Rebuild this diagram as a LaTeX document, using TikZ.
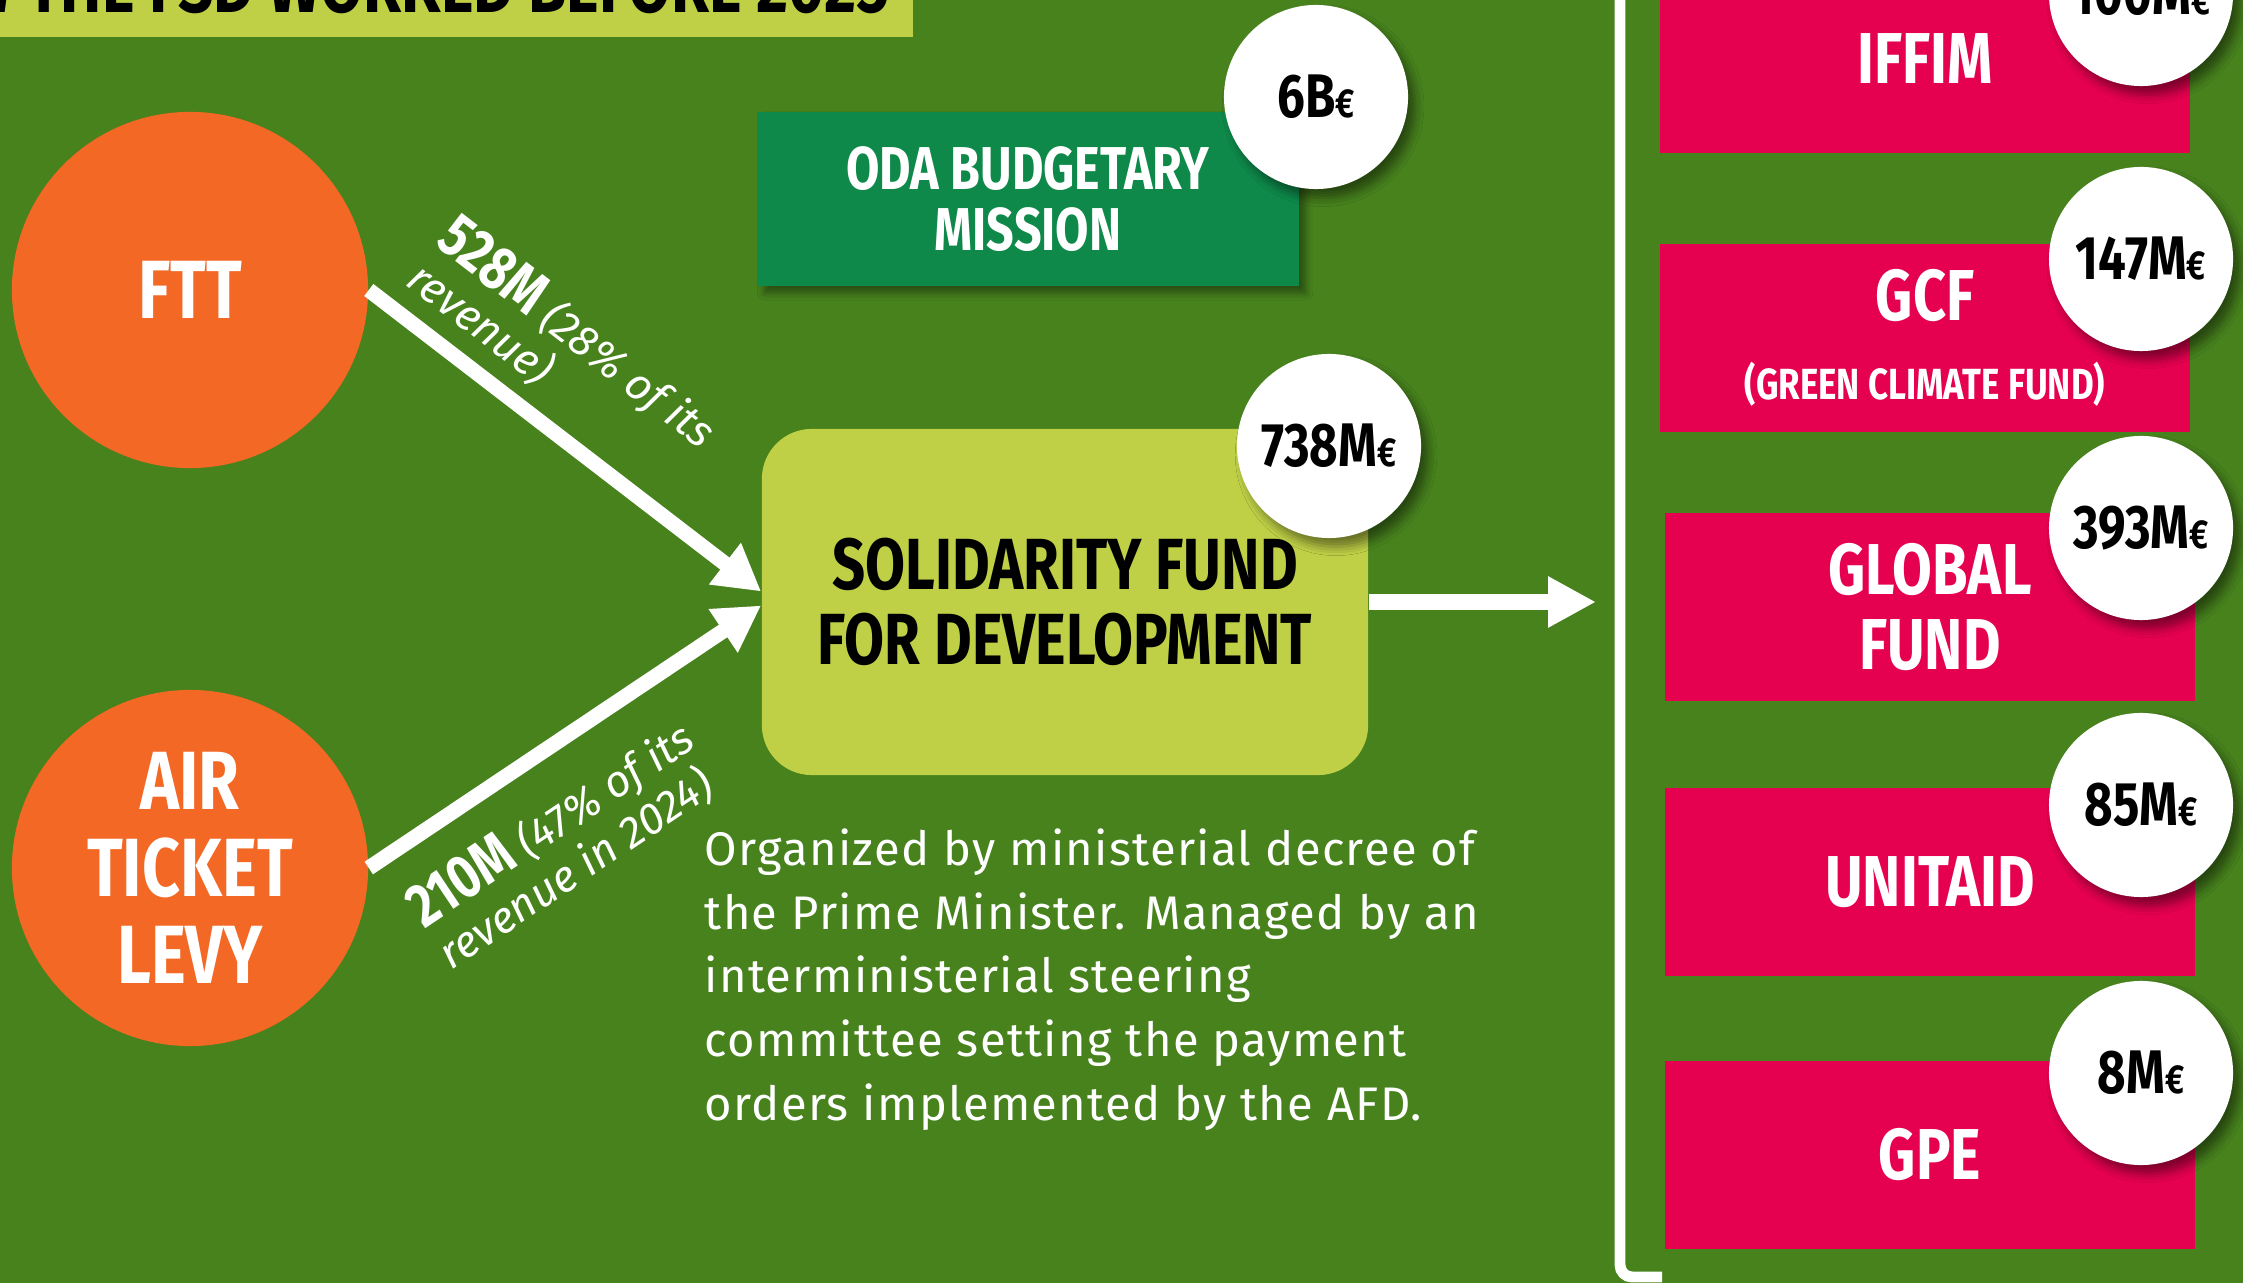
\documentclass[tikz,border=0pt]{standalone}
\usepackage{fontspec}
\setmainfont{Fira Sans}
\newfontfamily\dinfont{Fira Sans}[FakeStretch=0.8]
\newfontfamily\notefont{Fira Sans}[LetterSpace=2.8]
\usetikzlibrary{arrows.meta,shadows.blur}
\definecolor{bggreen}{RGB}{71,130,29}
\definecolor{limegreen}{RGB}{191,208,71}
\definecolor{odagreen}{RGB}{14,137,74}
\definecolor{fttorange}{RGB}{243,104,36}
\definecolor{fundpink}{RGB}{230,0,80}
\newcommand{\eur}{{\fontsize{11.5}{11.5}\selectfont €}}
\newcommand{\amt}[1]{{\dinfont\bfseries\upshape\fontsize{17.5}{14}\selectfont #1}}

\begin{document}
\begin{tikzpicture}[x=0.01cm,y=-0.01cm,
    source/.style={circle,fill=fttorange,minimum size=3.56cm,inner sep=0pt,text=white,align=center,
      font=\dinfont\bfseries\fontsize{23.5}{24.7}\selectfont},
    odabox/.style={fill=odagreen,minimum width=5.41cm,minimum height=1.74cm,text=white,align=center,
      font=\dinfont\bfseries\fontsize{17.2}{17.6}\selectfont,
      blur shadow={shadow xshift=2pt,shadow yshift=-2pt,shadow blur radius=2pt,shadow opacity=40}},
    sfdbox/.style={fill=limegreen,rounded corners=0.5cm,minimum width=6.06cm,minimum height=3.46cm,align=center,
      font=\dinfont\bfseries\fontsize{20.6}{21.5}\selectfont},
    fundbox/.style={fill=fundpink,minimum width=5.3cm,minimum height=1.88cm,text=white,align=center,
      font=\dinfont\bfseries\fontsize{20.5}{21.3}\selectfont},
    bubble/.style={circle,fill=white,minimum size=1.84cm,inner sep=0pt,
      font=\dinfont\bfseries\fontsize{17.5}{17.5}\selectfont,
      blur shadow={shadow xshift=2pt,shadow yshift=-2.5pt,shadow blur radius=2.5pt,shadow opacity=45}},
    flow/.style={white,line width=4.3pt,-{Triangle[length=13pt,width=14pt]}},
    amount/.style={sloped,text=white,align=left,inner sep=2pt,font=\fontsize{12.5}{14}\selectfont\itshape},
    note/.style={text=white,align=left,inner sep=0pt,font=\notefont\fontsize{13.4}{18.1}\selectfont}]
  \useasboundingbox (0,0) rectangle (2243,1283);
  \fill[bggreen] (0,0) rectangle (2243,1283); % fond
  % titre
  \fill[limegreen] (0,-10) rectangle (913,37);
  \node[anchor=base east,inner sep=0pt,font=\dinfont\bfseries\fontsize{22}{22}\selectfont] (title) at (890,13) {HOW THE FSD WORKED BEFORE 2025};
  % sources
  \node[source] (ftt) at (190,290) {FTT};
  \node[source] (air) at (190,868) {AIR\\TICKET\\LEVY};
  % budget
  \node[odabox] (oda) at (1028,199) {ODA BUDGETARY\\MISSION};
  \node[bubble] (odaamt) at (1316,97) {6B\eur};
  % fonds
  \node[sfdbox] (sfd) at (1065,602) {SOLIDARITY FUND\\FOR DEVELOPMENT};
  \node[bubble] (sfdamt) at (1329,446) {738M\eur};
  \node[note,anchor=north west] (decree) at (704,828) {Organized by ministerial decree of\\the Prime Minister. Managed by an\\interministerial steering\\committee setting the payment\\orders implemented by the AFD.};
  % fleches
  \draw[flow] (ftt.east) -- ([yshift=3pt]sfd.west) node[amount,pos=0.02,anchor=south west,inner ysep=3.5pt] (fttlbl) {\amt{528M} (28\% of its\\revenue)};
  \draw[flow] (air.east) -- ([yshift=-1pt]sfd.west) node[amount,pos=0.01,anchor=north west,inner xsep=0pt,inner ysep=9pt] (airlbl) {\amt{210M} (47\% of its\\revenue in 2024)};
  \coordinate (fanout) at (1596,602);
  \draw[white,line width=4.5pt,-{Triangle[length=13.6pt,width=13.6pt]}] (sfd.east) -- (fanout);
  % accolade
  \coordinate (brtop) at (1620,-10);
  \coordinate (brbot) at (1620,1277);
  \coordinate (brend) at (1662,1277);
  \draw[white,line width=3.1pt,rounded corners=0.12cm] (brtop) -- (brbot) -- (brend);
  % beneficiaires
  \node[fundbox] (iffim) at (1925,59) {IFFIM};
  \node[fundbox,minimum height=1.87cm] (gcf) at (1925,338) {GCF\\[1pt]{\fontsize{12.4}{12.4}\selectfont (GREEN CLIMATE FUND)}};
  \node[fundbox] (gf) at (1930,607) {GLOBAL\\FUND};
  \node[fundbox] (unitaid) at (1930,882) {UNITAID};
  \node[fundbox] (gpe) at (1930,1155) {GPE};
  \node[bubble] (iffimamt) at (2141,-6) {100M\eur};
  \node[bubble] (gcfamt) at (2141,259) {147M\eur};
  \node[bubble] (gfamt) at (2141,528) {393M\eur};
  \node[bubble] (unitaidamt) at (2141,805) {85M\eur};
  \node[bubble] (gpeamt) at (2141,1073) {8M\eur};
\end{tikzpicture}
\end{document}
